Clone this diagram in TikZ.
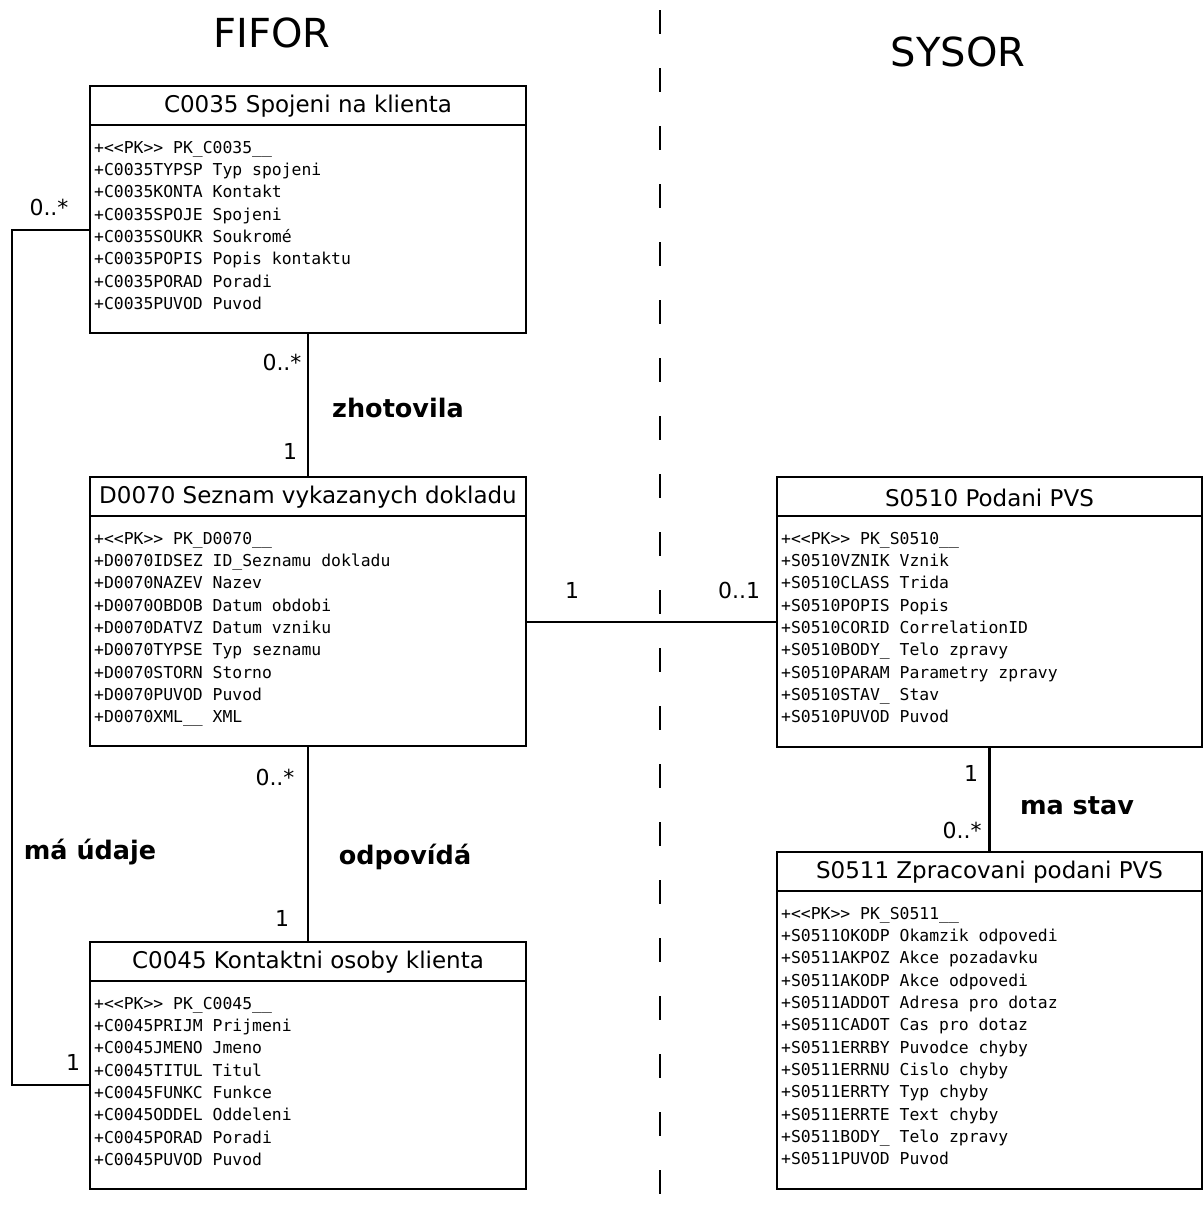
\documentclass[tikz,border=0pt]{standalone}
\usepackage{fontspec}
\setmainfont{DejaVu Sans}
\newfontfamily\attrfamily{DejaVu Sans Mono}
\usetikzlibrary{calc}

\tikzset{
  classbox/.style={draw, line width=2.6pt, inner sep=0pt, outer sep=0pt, anchor=north west, fill=white},
  classtitle/.style={font=\fontsize{23}{27}\selectfont, inner sep=0pt, anchor=center},
  attrline/.style={font=\attrfamily\fontsize{16.4}{19}\selectfont, inner sep=0pt, anchor=base west},
  multlabel/.style={font=\fontsize{22}{26}\selectfont, inner sep=0pt},
  rellabel/.style={font=\bfseries\fontsize{25.5}{30}\selectfont, inner sep=0pt},
  heading/.style={font=\fontsize{40}{48}\selectfont, inner sep=0pt},
  assoc/.style={line width=2.5pt},
  divider/.style={line width=2.8pt, dash pattern=on 24pt off 34pt},
}

% a class box: name, x, y of the top left corner, width, height, title
\newcommand\umlclass[6]{%
  \node[classbox, minimum width=#4pt, minimum height=#5pt] (#1) at (#2,#3) {};
  \draw[line width=2.6pt] ([yshift=-39pt]#1.north west) -- ([yshift=-39pt]#1.north east);
  \node[classtitle] (#1-title) at ([yshift=-20.5pt]#1.north) {#6};
}
% the attribute rows of a class box
\newcommand\umlattrs[2]{%
  \foreach \row [count=\k from 0] in {#2}
    \node[attrline] (#1-a\k) at ([xshift=4pt, yshift={-(67pt+\k*22.35pt)}]#1.north west) {\row};
}

\begin{document}
\begin{tikzpicture}[x=1pt, y=-1pt]
\useasboundingbox (0,0) rectangle (1204,1216);
\fill[white] (0,0) rectangle (1204,1216);

% boundary between the two systems
\draw[divider] (660,10) -- (660,1216);

\node[heading] (fifor) at (272,33) {FIFOR};
\node[heading] (sysor) at (958,52) {SYSOR};

% classes
\umlclass{c35}{90}{86}{436}{247}{C0035 Spojeni na klienta}
\umlattrs{c35}{+<{}<PK>{}> PK\_C0035\_\_, +C0035TYPSP Typ spojeni, +C0035KONTA Kontakt,
  +C0035SPOJE Spojeni, +C0035SOUKR Soukromé, +C0035POPIS Popis kontaktu,
  +C0035PORAD Poradi, +C0035PUVOD Puvod}

\umlclass{d70}{90}{477}{436}{269}{D0070 Seznam vykazanych dokladu}
\umlattrs{d70}{+<{}<PK>{}> PK\_D0070\_\_, +D0070IDSEZ ID\_Seznamu dokladu, +D0070NAZEV Nazev,
  +D0070OBDOB Datum obdobi, +D0070DATVZ Datum vzniku, +D0070TYPSE Typ seznamu,
  +D0070STORN Storno, +D0070PUVOD Puvod, +D0070XML\_\_ XML}

\umlclass{s510}{777}{477}{425}{270}{S0510 Podani PVS}
\umlattrs{s510}{+<{}<PK>{}> PK\_S0510\_\_, +S0510VZNIK Vznik, +S0510CLASS Trida,
  +S0510POPIS Popis, +S0510CORID CorrelationID, +S0510BODY\_ Telo zpravy,
  +S0510PARAM Parametry zpravy, +S0510STAV\_ Stav, +S0510PUVOD Puvod}

\umlclass{s511}{777}{852}{425}{337}{S0511 Zpracovani podani PVS}
\umlattrs{s511}{+<{}<PK>{}> PK\_S0511\_\_, +S0511OKODP Okamzik odpovedi, +S0511AKPOZ Akce pozadavku,
  +S0511AKODP Akce odpovedi, +S0511ADDOT Adresa pro dotaz, +S0511CADOT Cas pro dotaz,
  +S0511ERRBY Puvodce chyby, +S0511ERRNU Cislo chyby, +S0511ERRTY Typ chyby,
  +S0511ERRTE Text chyby, +S0511BODY\_ Telo zpravy, +S0511PUVOD Puvod}

\umlclass{c45}{90}{942}{436}{247}{C0045 Kontaktni osoby klienta}
\umlattrs{c45}{+<{}<PK>{}> PK\_C0045\_\_, +C0045PRIJM Prijmeni, +C0045JMENO Jmeno,
  +C0045TITUL Titul, +C0045FUNKC Funkce, +C0045ODDEL Oddeleni,
  +C0045PORAD Poradi, +C0045PUVOD Puvod}

% associations
\draw[assoc] (c35.south) -- (d70.north);
\draw[assoc] ([yshift=-145pt]d70.north east) -- ([yshift=-145pt]s510.north west);
\draw[assoc] (s510.south) -- (s511.north);
\draw[assoc] (d70.south) -- (c45.north);
\coordinate (bendtop) at (12,230);
\coordinate (bendbot) at (12,1085);
\draw[assoc] (c35.west |- bendtop) -- (bendtop) -- (bendbot) -- (c45.west |- bendbot);

% multiplicities
\node[multlabel] (m1) at (282,362) {0..*};
\node[multlabel] (m2) at (290,451) {1};
\node[multlabel] (m3) at (572,590) {1};
\node[multlabel] (m4) at (739,590) {0..1};
\node[multlabel] (m5) at (971,773) {1};
\node[multlabel] (m6) at (962,830) {0..*};
\node[multlabel] (m7) at (275,777) {0..*};
\node[multlabel] (m8) at (282,918) {1};
\node[multlabel] (m9) at (49,207) {0..*};
\node[multlabel] (m10) at (73,1062) {1};

% association names
\node[rellabel] (r1) at (398,408) {zhotovila};
\node[rellabel] (r2) at (1077,806) {ma stav};
\node[rellabel] (r3) at (405,857) {odpovídá};
\node[rellabel] (r4) at (90,852) {má údaje};
\end{tikzpicture}
\end{document}
